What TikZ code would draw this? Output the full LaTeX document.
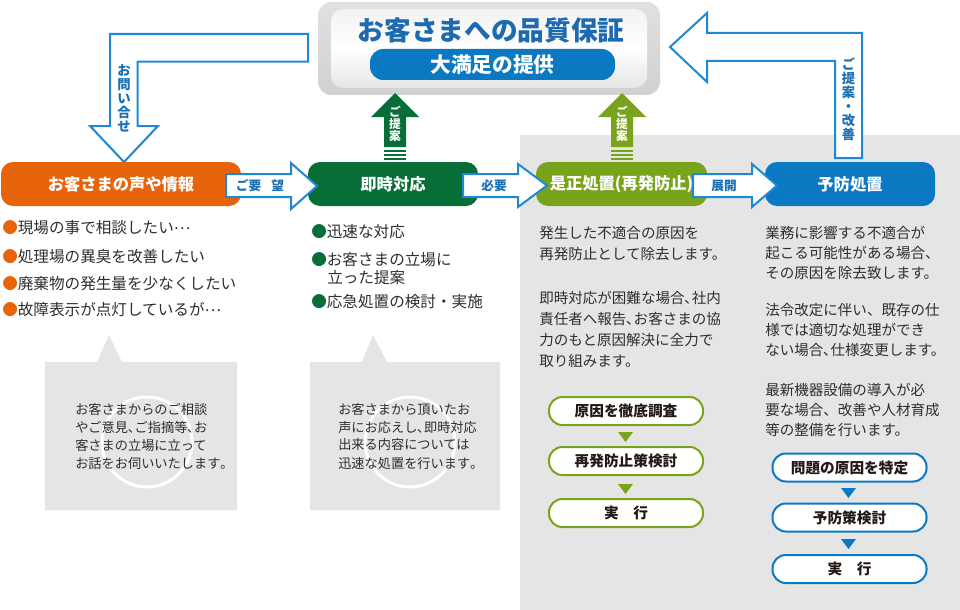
\documentclass[tikz,border=0pt]{standalone}
\usepackage{fontspec}
\setmainfont{Noto Sans CJK JP}
\definecolor{bgray}{HTML}{E5E5E5}
\definecolor{cOrange}{HTML}{E8640A}
\definecolor{cDgreen}{HTML}{066E36}
\definecolor{cOlive}{HTML}{79A31A}
\definecolor{cBlue}{HTML}{0A79C1}
\definecolor{cLine}{HTML}{1E88D2}
\definecolor{cLabel}{HTML}{1B6FB5}
\definecolor{cTitle}{HTML}{1D6AB0}
\definecolor{cText}{HTML}{2E2E2E}
\definecolor{cDark}{HTML}{231815}
\newcommand{\midell}{\raisebox{0.28em}{…}}
\begin{document}
\begin{tikzpicture}[x=0.75pt,y=-0.75pt,
  header/.style={rounded corners=9pt, inner sep=0pt, text=white, font=\bfseries\fontsize{12.2}{14}\selectfont, minimum height=33pt},
  blockarrow/.style={draw=cLine, fill=white, line width=1.5pt, line join=miter},
  arrowlabel/.style={text=cLabel, font=\bfseries\fontsize{9.5}{10}\selectfont, inner sep=0pt},
  vlabel/.style={text=cLabel, align=center, font=\bfseries\fontsize{10}{10.5}\selectfont, inner sep=0pt},
  glabel/.style={text=white, align=center, font=\bfseries\fontsize{8.8}{9}\selectfont, inner sep=0pt},
  bulletline/.style={anchor=west, inner sep=0pt, text=cText, font=\fontsize{11.7}{14}\selectfont},
  btext/.style={anchor=west, align=left, inner sep=0pt, text=cText, font=\fontsize{9.9}{13.5}\selectfont},
  ctext/.style={anchor=west, align=left, inner sep=0pt, text=cText},
  flowbox/.style={rounded corners=10pt, line width=1.5pt, fill=white, minimum width=115.5pt, minimum height=21pt, inner sep=0pt, text=cDark, font=\bfseries\fontsize{11}{12}\selectfont},
]
\useasboundingbox (0,0) rectangle (960,610);
% gray panel
\fill[bgray] (520,135) rectangle (960,610);

% top box
\shade[rounded corners=10pt, top color=gray!24, bottom color=gray!36] (318,2) rectangle (660,95);
\shade[rounded corners=9pt, top color=gray!10, bottom color=gray!20, middle color=white] (331,9) rectangle (647,88);
\node[font=\bfseries\fontsize{20}{22}\selectfont, text=cTitle, inner sep=0pt] (title) at (491,30) {お客さまへの品質保証};
\node[fill=cBlue, rounded corners=10pt, minimum width=183.75pt, minimum height=23.25pt, inner sep=0pt, text=white, font=\bfseries\fontsize{15.5}{17}\selectfont] (pill) at (492.5,64.5) {大満足の提供};

% L arrows
\draw[blockarrow] (308,34) -- (110,34) -- (110,126) -- (90,126) -- (124,162) -- (158,126) -- (137.7,126) -- (137.7,61.7) -- (308,61.7) -- cycle;
\node[vlabel] (inq) at (124,98) {お\\問\\い\\合\\せ};
\draw[blockarrow] (670,47) -- (707,13) -- (707,33) -- (862,33) -- (862,158) -- (835,158) -- (835,61) -- (707,61) -- (707,82) -- cycle;
\node[vlabel] (kaizen) at (848.5,99) {ご\\提\\案\\・\\改\\善};

% vertical up arrows
\foreach \c/\col/\nm in {395/cDgreen/ga, 622/cOlive/gb}{
  \fill[\col] (\c-24,117) -- (\c,93) -- (\c+24,117) -- (\c+11,117) -- (\c+11,147) -- (\c-11,147) -- (\c-11,117) -- cycle;
  \fill[\col] (\c-11,149.5) rectangle (\c+11,151.5);
  \fill[\col] (\c-11,153.5) rectangle (\c+11,155.5);
  \fill[\col] (\c-11,157.5) rectangle (\c+11,159.5);
  \node[glabel] (\nm) at (\c,124) {ご\\提\\案};
}

% headers
\node[header, fill=cOrange, minimum width=180pt] (h1) at (121,184) {お客さまの声や情報};
\node[header, fill=cDgreen, minimum width=127.5pt] (h2) at (393,184) {即時対応};
\node[header, fill=cOlive, minimum width=128.25pt] (h3) at (621.5,184) {是正処置(再発防止)};
\node[header, fill=cBlue, minimum width=127.5pt] (h4) at (850,184) {予防処置};

% horizontal block arrows
\draw[blockarrow] (226,174) -- (291,174) -- (291,163) -- (317,186) -- (291,209) -- (291,197) -- (226,197) -- cycle;
\node[arrowlabel] (a1) at (260,185.5) {ご要\hspace{0.8em}望};
\draw[blockarrow] (463,174) -- (518,174) -- (518,164) -- (547,185.5) -- (518,207) -- (518,197) -- (463,197) -- cycle;
\node[arrowlabel] (a2) at (494,185.5) {必要};
\draw[blockarrow] (693,174) -- (752,174) -- (752,164) -- (777,185.5) -- (752,207) -- (752,197) -- (693,197) -- cycle;
\node[arrowlabel] (a3) at (724,185.5) {展開};

% left bullets
\node[bulletline] (b1) at (2,228) {{\color{cOrange}●}現場の事で相談したい\midell};
\node[bulletline] (b2) at (2,257) {{\color{cOrange}●}処理場の異臭を改善したい};
\node[bulletline] (b3) at (2,284) {{\color{cOrange}●}廃棄物の発生量を少なくしたい};
\node[bulletline] (b4) at (2,310) {{\color{cOrange}●}故障表示が点灯しているが\midell};
% green bullets
\node[bulletline] (g1) at (311,232) {{\color{cDgreen}●}迅速な対応};
\node[bulletline] (g2) at (311,260) {{\color{cDgreen}●}お客さまの立場に};
\node[bulletline] (g2b) at (327,278) {立った提案};
\node[bulletline] (g3) at (311,302) {{\color{cDgreen}●}応急処置の検討・実施};

% bubbles
\fill[bgray] (45,362) -- (97,362) -- (109,335) -- (122,362) -- (237,362) -- (237,510) -- (45,510) -- cycle;
\fill[bgray] (310,362) -- (362,362) -- (373,335) -- (387,362) -- (500,362) -- (500,510) -- (310,510) -- cycle;
\draw[white, line width=2.2pt] (147,442) circle[radius=33.75pt];
\draw[white, line width=2.2pt] (410,442) circle[radius=33.75pt];
\node[btext] (bub1) at (75,436) {お客さまからのご相談\\やご意見､ご指摘等､お\\客さまの立場に立って\\お話をお伺いいたします｡};
\node[btext] (bub2) at (338,436) {お客さまから頂いたお\\声にお応えし､即時対応\\出来る内容については\\迅速な処置を行います｡};

% olive column text
\node[ctext, font=\fontsize{10.9}{15.75}\selectfont] (o1) at (539,243.5) {発生した不適合の原因を\\再発防止として除去します。};
\node[ctext, font=\fontsize{10.9}{15.75}\selectfont] (o2) at (539,329.5) {即時対応が困難な場合､社内\\責任者へ報告､お客さまの協\\力のもと原因解決に全力で\\取り組みます。};
% blue column text
\node[ctext, font=\fontsize{10.9}{15}\selectfont] (p1) at (765,253) {業務に影響する不適合が\\起こる可能性がある場合、\\その原因を除去致します。};
\node[ctext, font=\fontsize{10.9}{15}\selectfont] (p2) at (765,330) {法令改定に伴い、既存の仕\\様では適切な処理ができ\\ない場合､仕様変更します。};
\node[ctext, font=\fontsize{10.9}{15}\selectfont] (p3) at (765,410) {最新機器設備の導入が必\\要な場合、改善や人材育成\\等の整備を行います。};

% olive flow
\node[flowbox, draw=cOlive] (f1) at (626,411) {原因を徹底調査};
\node[flowbox, draw=cOlive] (f2) at (626,461) {再発防止策検討};
\node[flowbox, draw=cOlive] (f3) at (626,513) {実\hspace{1em}行};
\fill[cOlive] (618,432) -- (633,432) -- (625.5,442) -- cycle;
\fill[cOlive] (618,484) -- (633,484) -- (625.5,494) -- cycle;
% blue flow
\node[flowbox, draw=cBlue] (q1) at (849.5,467.5) {問題の原因を特定};
\node[flowbox, draw=cBlue] (q2) at (849.5,517.5) {予防策検討};
\node[flowbox, draw=cBlue] (q3) at (849.5,569) {実\hspace{1em}行};
\fill[cBlue] (841,488) -- (856,488) -- (848.5,498) -- cycle;
\fill[cBlue] (841,539) -- (856,539) -- (848.5,549) -- cycle;
\end{tikzpicture}
\end{document}
